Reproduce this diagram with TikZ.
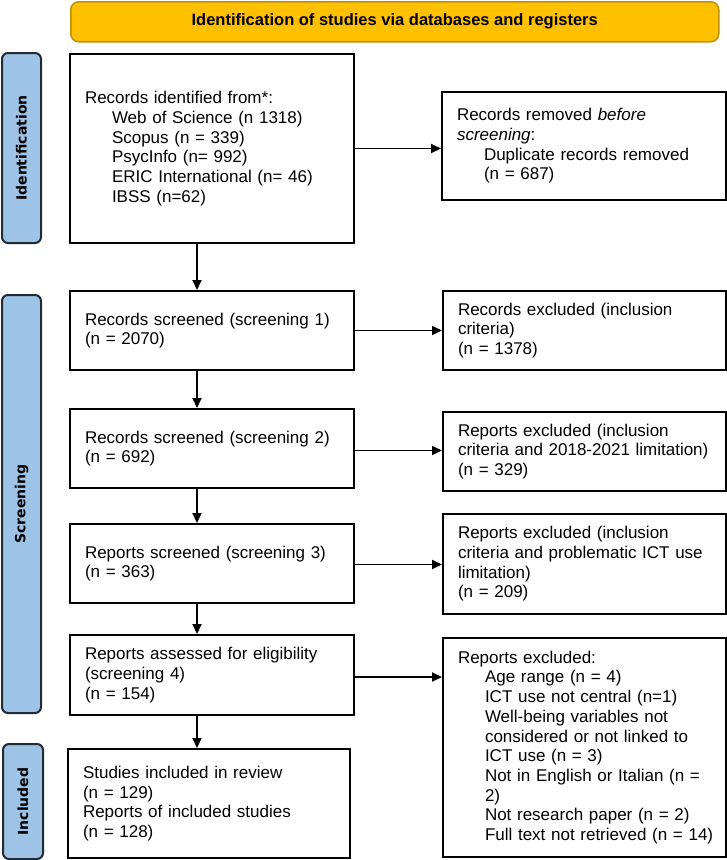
\documentclass[tikz,border=0pt]{standalone}
\usepackage{fontspec}
\setmainfont{Liberation Sans}
\newfontfamily\sidefont{DejaVu Sans}
\usetikzlibrary{arrows.meta,calc}
\definecolor{gold}{HTML}{FFC000}
\definecolor{golddark}{HTML}{BF9000}
\definecolor{barblue}{HTML}{9DC3E6}
\definecolor{bardark}{HTML}{222B33}
\newcommand{\indl}[1]{\hspace*{27pt}\mbox{#1}}
\begin{document}
\begin{tikzpicture}[x=1pt,y=-1pt,
  box/.style={draw=black, line width=2pt, anchor=north west, inner xsep=15pt, inner ysep=0pt,
    align=left, font=\fontsize{17}{19.7}\selectfont},
  banner/.style={draw=golddark, fill=gold, line width=1.5pt, rounded corners=8pt, anchor=north west,
    font=\fontsize{16.5}{19}\selectfont\bfseries},
  bar/.style={draw=bardark, fill=barblue, line width=2pt, rounded corners=6pt, rotate=90,
    inner sep=0pt, font=\sidefont\fontsize{14}{16}\selectfont\bfseries},
  arr/.style={-{Triangle[length=10pt,width=9pt]}, line width=1.9pt, draw=black}
]
\useasboundingbox (0,0) rectangle (727,860);
\fill[white] (0,0) rectangle (727,860);

\node[banner, minimum width=648pt, minimum height=40pt] (title) at (70,1) {Identification of studies via databases and registers};

\node[bar, minimum width=190pt, minimum height=39pt] (bid) at (21.5,148) {Identification};
\node[bar, minimum width=418pt, minimum height=39pt] (bsc) at (21.5,504) {Screening};
\node[bar, minimum width=115pt, minimum height=40pt] (binc) at (23,801.5) {Included};

\coordinate (ax) at (197,0);

\node[box, text width=254pt, minimum height=189pt] (id) at (69,53) {Records identified from*:\\
\indl{Web of Science (n 1318)}\\
\indl{Scopus (n = 339)}\\
\indl{PsycInfo (n= 992)}\\
\indl{ERIC International (n= 46)}\\
\indl{IBSS (n=62)}};

\node[box, text width=254pt, minimum height=108pt] (rem) at (441,91) {Records removed \textit{before}\\
\textit{screening}:\\
\indl{Duplicate records removed}\\
\indl{(n = 687)}};

\node[box, text width=254pt, minimum height=79pt] (s1) at (69,290) {Records screened (screening 1)\\(n = 2070)};
\node[box, text width=253pt, minimum height=79pt] (e1) at (442,290) {Records excluded (inclusion\\criteria)\\(n = 1378)};

\node[box, text width=254pt, minimum height=79pt] (s2) at (69,408) {Records screened (screening 2)\\(n = 692)};
\node[box, text width=253pt, minimum height=79pt] (e2) at (442,411) {Reports excluded (inclusion\\\mbox{criteria and 2018-2021 limitation)}\\(n = 329)};

\node[box, text width=254pt, minimum height=79pt] (s3) at (69,523) {Reports screened (screening 3)\\(n = 363)};
\node[box, text width=253pt, minimum height=100pt] (e3) at (442,513) {Reports excluded (inclusion\\\mbox{criteria and problematic ICT use}\\limitation)\\(n = 209)};

\node[box, text width=254pt, minimum height=80pt] (s4) at (69,634) {Reports assessed for eligibility\\(screening 4)\\(n = 154)};
\node[box, text width=253pt, minimum height=219pt] (e4) at (442,637) {Reports excluded:\\
\indl{Age range (n = 4)}\\
\indl{ICT use not central (n=1)}\\
\indl{Well-being variables not}\\
\indl{considered or not linked to}\\
\indl{ICT use (n = 3)}\\
\indl{Not in English or Italian (n =}\\
\indl{2)}\\
\indl{Not research paper (n = 2)}\\
\indl{Full text not retrieved (n = 14)}};

\node[box, text width=252pt, minimum height=109pt] (inc) at (67,748) {Studies included in review\\(n = 129)\\Reports of included studies\\(n = 128)};

\draw[arr] (id.east) -- (id.east -| rem.west);
\draw[arr] (s1.east) -- (s1.east -| e1.west);
\draw[arr] (s2.east) ++(0,2) -- ($(s2.east -| e2.west)+(0,2)$);
\draw[arr] (s3.east) ++(0,1) -- ($(s3.east -| e3.west)+(0,1)$);
\draw[arr] (s4.east) ++(0,2) -- ($(s4.east -| e4.west)+(0,2)$);

\draw[arr] (id.south -| ax) -- (s1.north -| ax);
\draw[arr] (s1.south -| ax) -- (s2.north -| ax);
\draw[arr] (s2.south -| ax) -- (s3.north -| ax);
\draw[arr] (s3.south -| ax) -- (s4.north -| ax);
\draw[arr] (s4.south -| ax) -- (inc.north -| ax);
\end{tikzpicture}
\end{document}
